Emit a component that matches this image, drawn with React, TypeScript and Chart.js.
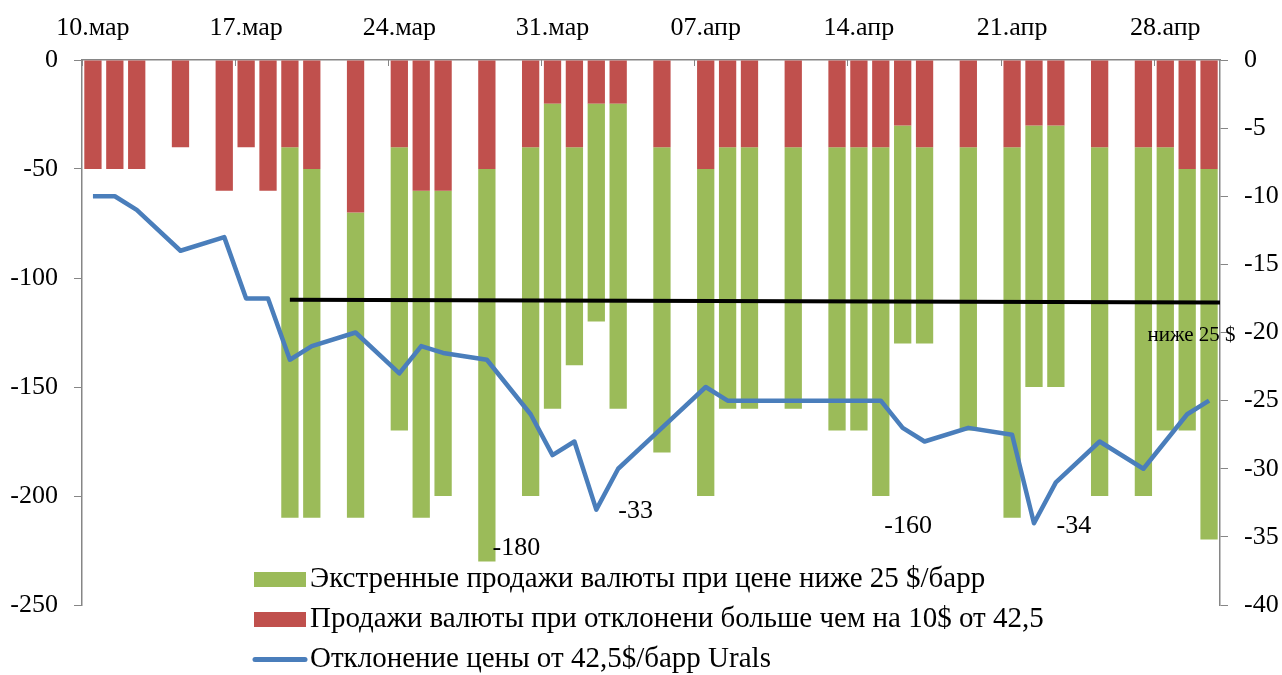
import React, { useEffect, useRef } from 'react';
import { Chart, registerables } from 'chart.js';

Chart.register(...registerables);

// ---------- DATA ----------
const days: string[] = [
  '10.мар', '11.мар', '12.мар', '13.мар', '14.мар', '15.мар', '16.мар', '17.мар', '18.мар', '19.мар',
  '20.мар', '21.мар', '22.мар', '23.мар', '24.мар', '25.мар', '26.мар', '27.мар', '28.мар', '29.мар',
  '30.мар', '31.мар', '01.апр', '02.апр', '03.апр', '04.апр', '05.апр', '06.апр', '07.апр', '08.апр',
  '09.апр', '10.апр', '11.апр', '12.апр', '13.апр', '14.апр', '15.апр', '16.апр', '17.апр', '18.апр',
  '19.апр', '20.апр', '21.апр', '22.апр', '23.апр', '24.апр', '25.апр', '26.апр', '27.апр', '28.апр',
  '29.апр', '30.апр',
];

const shownTickLabels: string[] = ['10.мар', '17.мар', '24.мар', '31.мар', '07.апр', '14.апр', '21.апр', '28.апр'];

// Продажи валюты при отклонении (red, stacked first)
const deviationSales: (number | null)[] = [
  -50, -50, -50, null, -40, null, -60, -40, -60, -40,
  -50, null, -70, null, -40, -60, -60, null, -50, null,
  -40, -20, -40, -20, -20, null, -40, null, -50, -40,
  -40, null, -40, null, -40, -40, -40, -30, -40, null,
  -40, null, -40, -30, -30, null, -40, null, -40, -40,
  -50, -50,
];

// Экстренные продажи (green, stacked below red)
const emergencySales: (number | null)[] = [
  null, null, null, null, null, null, null, null, null, -170,
  -160, null, -140, null, -130, -150, -140, null, -180, null,
  -160, -140, -100, -100, -140, null, -140, null, -150, -120,
  -120, null, -120, null, -130, -130, -160, -100, -90, null,
  -130, null, -170, -120, -120, null, -160, null, -160, -130,
  -120, -170,
];

// Отклонение цены от 42,5$/барр Urals (right axis)
const priceDeviation: (number | null)[] = [
  -10, -10, -11, null, -14, null, -13, -17.5, -17.5, -22,
  -21, null, -20, null, -23, -21, -21.5, null, -22, null,
  -26, -29, -28, -33, -30, null, -27, null, -24, -25,
  -25, null, -25, null, -25, -25, -25, -27, -28, null,
  -27, null, -27.5, -34, -31, null, -28, null, -30, -28,
  -26, -25,
];

// black threshold line (left axis), start/end in category units
const thresholdX: number[] = [9, 51.5];
const thresholdY: number[] = [-110, -111.2];

// free text labels, anchored in data space
const noteTexts: string[] = ['-180', '-33', '-160', '-34', 'ниже 25 $'];
const noteX: number[] = [19.35, 24.8, 37.25, 44.82, 50.2];
const noteY: number[] = [-224.1, -33.1, -214, -34.2, -20.25];
const noteAxis: string[] = ['yL', 'yR', 'yL', 'yR', 'yR'];

const labelGreen = 'Экстренные продажи валюты при цене ниже 25 $/барр';
const labelRed = 'Продажи валюты при отклонени больше чем на 10$ от 42,5';
const labelBlue = 'Отклонение цены от 42,5$/барр Urals';

// ---------- STYLE ----------
const GREEN = '#9BBB59';
const RED = '#C0504D';
const BLUE = '#4A7EBB';
const AXIS = '#868686';
const FONT = '"Liberation Serif", "Times New Roman", serif';

const overlayPlugin = {
  id: 'overlay',
  afterDatasetsDraw(chart: any) {
    const { ctx } = chart;
    const xs = chart.scales.x;
    const yL = chart.scales.yL;
    // threshold line
    ctx.save();
    ctx.strokeStyle = '#000';
    ctx.lineWidth = 4;
    ctx.beginPath();
    ctx.moveTo(xs.getPixelForValue(thresholdX[0]), yL.getPixelForValue(thresholdY[0]));
    ctx.lineTo(xs.getPixelForValue(thresholdX[1]), yL.getPixelForValue(thresholdY[1]));
    ctx.stroke();
    ctx.restore();

    // notes
    ctx.save();
    ctx.fillStyle = '#000';
    ctx.textAlign = 'center';
    ctx.textBaseline = 'middle';
    noteTexts.forEach((t, i) => {
      const ys = chart.scales[noteAxis[i]];
      const size = t.length > 5 ? 21 : 26;
      ctx.font = `${size}px ${FONT}`;
      ctx.fillText(t, xs.getPixelForValue(noteX[i]), ys.getPixelForValue(noteY[i]));
    });
    ctx.restore();
  },
  afterDraw(chart: any) {
    const { ctx, chartArea } = chart;
    const items = [
      { label: labelGreen, color: GREEN, kind: 'box' },
      { label: labelRed, color: RED, kind: 'box' },
      { label: labelBlue, color: BLUE, kind: 'line' },
    ];
    ctx.save();
    ctx.font = `29px ${FONT}`;
    ctx.textBaseline = 'middle';
    ctx.textAlign = 'left';
    const x0 = 254;
    items.forEach((it, i) => {
      const cy = chartArea.bottom - 25.5 + i * 40;
      if (it.kind === 'box') {
        ctx.fillStyle = it.color;
        ctx.fillRect(x0, cy - 7.5, 52, 15);
      } else {
        ctx.strokeStyle = it.color;
        ctx.lineWidth = 5;
        ctx.lineCap = 'round';
        ctx.beginPath();
        ctx.moveTo(x0 + 1, cy);
        ctx.lineTo(x0 + 51, cy);
        ctx.stroke();
      }
      ctx.fillStyle = '#000';
      ctx.fillText(it.label, x0 + 56, cy);
    });
    ctx.restore();
  },
};

export default function App() {
  const ref = useRef<HTMLCanvasElement>(null);

  useEffect(() => {
    if (!ref.current) return;
    const chart = new Chart(ref.current, {
      type: 'bar',
      data: {
        labels: days,
        datasets: [
          {
            type: 'bar',
            label: labelRed,
            data: deviationSales,
            backgroundColor: RED,
            yAxisID: 'yL',
            stack: 's',
            order: 1,
            categoryPercentage: 1,
            barPercentage: 0.79,
          },
          {
            type: 'bar',
            label: labelGreen,
            data: emergencySales,
            backgroundColor: GREEN,
            yAxisID: 'yL',
            stack: 's',
            order: 1,
            categoryPercentage: 1,
            barPercentage: 0.79,
          },
          {
            type: 'line',
            label: labelBlue,
            data: priceDeviation,
            borderColor: BLUE,
            backgroundColor: BLUE,
            borderWidth: 4.5,
            pointRadius: 0,
            tension: 0,
            spanGaps: true,
            yAxisID: 'yR',
            order: 0,
            borderJoinStyle: 'round',
          } as any,
        ],
      },
      options: {
        responsive: false,
        animation: false,
        devicePixelRatio: 1,
        layout: { padding: { top: 0, left: 0, right: 0, bottom: 70 } },
        plugins: {
          legend: { display: false },
          tooltip: { enabled: false },
        },
        scales: {
          x: {
            type: 'category',
            position: 'top',
            stacked: true,
            offset: true,
            grid: {
              offset: true,
              drawOnChartArea: false,
              drawTicks: true,
              tickLength: -6,
              tickColor: (c: any) => (c.index % 7 === 0 ? AXIS : 'rgba(0,0,0,0)'),
              color: 'rgba(0,0,0,0)',
            },
            border: { color: AXIS, width: 1.5 },
            ticks: {
              autoSkip: false,
              maxRotation: 0,
              minRotation: 0,
              padding: 22,
              color: '#000',
              font: { family: FONT, size: 26 },
              callback: (_v: any, i: number) => (shownTickLabels.includes(days[i]) ? days[i] : ''),
            },
            afterFit: (s: any) => {
              s.height = 60;
            },
          },
          yL: {
            type: 'linear',
            position: 'left',
            stacked: true,
            min: -250,
            max: 0,
            grid: { drawOnChartArea: false, tickLength: 8, color: AXIS },
            border: { color: AXIS, width: 1.5 },
            ticks: { stepSize: 50, padding: 16, color: '#000', font: { family: FONT, size: 26 } },
            afterFit: (s: any) => {
              s.width = 82;
            },
          },
          yR: {
            type: 'linear',
            position: 'right',
            min: -40,
            max: 0,
            grid: { drawOnChartArea: false, tickLength: 8, color: AXIS },
            border: { color: AXIS, width: 1.5 },
            ticks: { stepSize: 5, padding: 16, color: '#000', font: { family: FONT, size: 26 } },
            afterFit: (s: any) => {
              s.width = 62;
            },
          },
        },
      },
      plugins: [overlayPlugin],
    });
    return () => chart.destroy();
  }, []);

  return (
    <div style={{ position: 'fixed', left: 0, top: 0, width: 1282, height: 675, background: '#fff' }}>
      <canvas ref={ref} width={1282} height={675} style={{ display: 'block' }} />
    </div>
  );
}
